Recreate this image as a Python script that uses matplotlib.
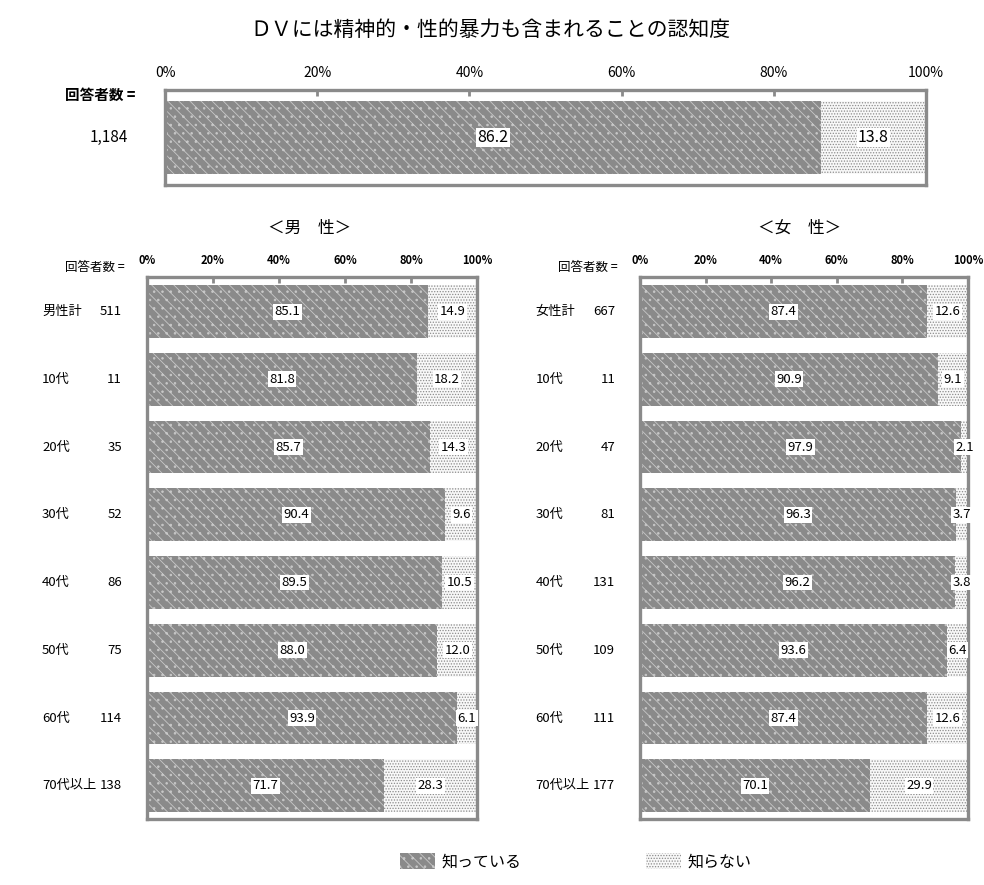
import matplotlib
matplotlib.use('Agg')
import matplotlib.pyplot as plt
from matplotlib.patches import Patch
import matplotlib.transforms as mtrans

plt.rcParams['font.family'] = ['Noto Sans CJK JP', 'DejaVu Sans']

title = 'ＤＶには精神的・性的暴力も含まれることの認知度'
series = ['知っている', '知らない']

total_n = '1,184'
total_vals = [86.2, 13.8]

male_cats = ['男性計', '10代', '20代', '30代', '40代', '50代', '60代', '70代以上']
male_n = [511, 11, 35, 52, 86, 75, 114, 138]
male_know = [85.1, 81.8, 85.7, 90.4, 89.5, 88.0, 93.9, 71.7]
male_not = [14.9, 18.2, 14.3, 9.6, 10.5, 12.0, 6.1, 28.3]

female_cats = ['女性計', '10代', '20代', '30代', '40代', '50代', '60代', '70代以上']
female_n = [667, 11, 47, 81, 131, 109, 111, 177]
female_know = [87.4, 90.9, 97.9, 96.3, 96.2, 93.6, 87.4, 70.1]
female_not = [12.6, 9.1, 2.1, 3.7, 3.8, 6.4, 12.6, 29.9]

ticks = [0, 20, 40, 60, 80, 100]
tick_labels = ['0%', '20%', '40%', '60%', '80%', '100%']

# styles
KNOW = dict(facecolor='#8a8a8a', edgecolor='#c8c8c8', hatch='\\\\\\..', linewidth=0)
NOT = dict(facecolor='#f8f8f8', edgecolor='#8c8c8c', hatch='......', linewidth=0)
FRAME = '#8a8a8a'
plt.rcParams['hatch.linewidth'] = 0.6

fig = plt.figure(figsize=(9.84, 8.85), dpi=100)


def style_axes(ax, fs):
    ax.set_xlim(0, 100)
    ax.xaxis.tick_top()
    ax.set_xticks(ticks)
    ax.set_xticklabels(tick_labels, fontsize=fs)
    ax.tick_params(axis='x', direction='in', length=4, width=2, color=FRAME, pad=7)
    ax.set_yticks([])
    for s in ax.spines.values():
        s.set_color(FRAME)
        s.set_linewidth(2.4)


def value_label(ax, x, y, v, fs):
    ax.text(x, y, '%.1f' % v, ha='center', va='center', fontsize=fs,
            bbox=dict(facecolor='white', edgecolor='none', pad=1.0))


# top (overall)
ax0 = fig.add_axes([0.1677, 0.791, 0.7734, 0.1073])
ax0.barh([0], [total_vals[0]], height=0.76, **KNOW)
ax0.barh([0], [total_vals[1]], left=[total_vals[0]], height=0.76, **NOT)
ax0.set_ylim(-0.5, 0.5)
style_axes(ax0, 10)
value_label(ax0, total_vals[0] / 2, 0, total_vals[0], 11.5)
value_label(ax0, total_vals[0] + total_vals[1] / 2, 0, total_vals[1], 11.5)
ax0.text(-0.039, 0.95, '回答者数 =', transform=ax0.transAxes, ha='right', va='center',
         fontsize=10.5, fontweight='bold')
tr0 = mtrans.blended_transform_factory(ax0.transAxes, ax0.transData)
ax0.text(-0.049, 0, total_n, transform=tr0, ha='right', va='center', fontsize=11)


def panel(rect, cats, ns, know, notk):
    ax = fig.add_axes(rect)
    y = list(range(len(cats)))
    ax.barh(y, know, height=0.78, **KNOW)
    ax.barh(y, notk, left=know, height=0.78, **NOT)
    ax.set_ylim(len(cats) - 0.51, -0.51)
    style_axes(ax, 8)
    for t in ax.get_xticklabels():
        t.set_fontweight('bold')
    tr = mtrans.blended_transform_factory(ax.transAxes, ax.transData)
    for i in y:
        value_label(ax, know[i] / 2, i, know[i], 9.5)
        value_label(ax, know[i] + notk[i] / 2, i, notk[i], 9.5)
        ax.text(-0.318, i, cats[i], transform=tr, ha='left', va='center', fontsize=9.5)
        ax.text(-0.076, i, str(ns[i]), transform=tr, ha='right', va='center', fontsize=9.5)
    ax.text(-0.067, 1.017, '回答者数 =', transform=ax.transAxes, ha='right', va='center',
            fontsize=9)
    return ax


panel([0.1494, 0.0746, 0.3354, 0.6124], male_cats, male_n, male_know, male_not)
panel([0.6504, 0.0746, 0.3333, 0.6124], female_cats, female_n, female_know, female_not)

fig.text(0.315, 0.742, '＜男　性＞', ha='center', va='center', fontsize=12)
fig.text(0.813, 0.742, '＜女　性＞', ha='center', va='center', fontsize=12)
fig.text(0.498, 0.966, title, ha='center', va='center', fontsize=15)

handles = [Patch(**KNOW, label=series[0]), Patch(**NOT, label=series[1])]
fig.legend(handles=handles, loc='center', bbox_to_anchor=(0.585, 0.026), ncol=2,
           frameon=False, fontsize=11.5, handlelength=2.2, handleheight=1.1,
           handletextpad=0.4, columnspacing=7.8)

fig.savefig('out.png', dpi=100)
